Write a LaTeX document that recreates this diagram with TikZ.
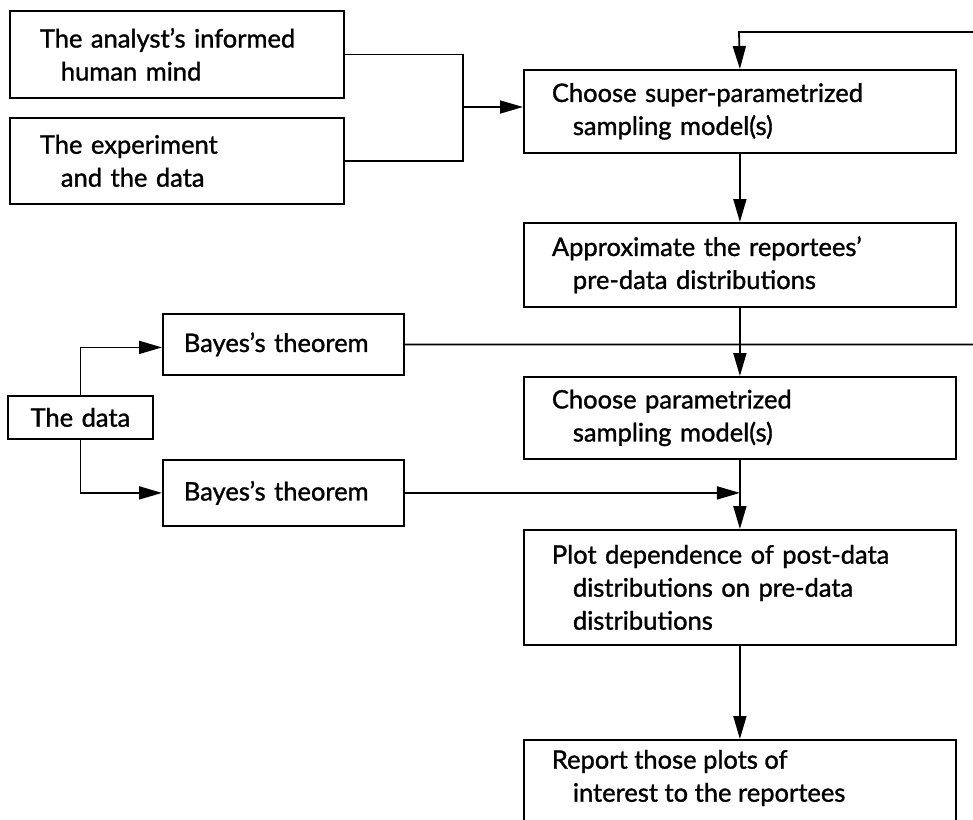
\documentclass[tikz,border=0pt]{standalone}
\usepackage{fontspec}
\setmainfont{Lato}[FakeBold=1.2]
\usetikzlibrary{arrows.meta,calc}
\tikzset{
  box/.style={draw, line width=1.8pt, rectangle, anchor=north west,
    align=left, inner ysep=6pt, font=\fontsize{25.5}{33}\selectfont},
  line/.style={line width=1.8pt},
  arr/.style={line width=1.8pt, -{Triangle[length=23pt,width=13pt]}},
}
\newcommand{\ind}{\hspace*{21pt}}
\begin{document}
\begin{tikzpicture}[x=1pt,y=-1pt]
\useasboundingbox (0,0) rectangle (973,819);
% left column
\node[box, inner xsep=30pt, text width=274pt, minimum height=87pt] (A) at (9,10)
  {\mbox{The analyst's informed}\\\ind\mbox{human mind}};
\node[box, inner xsep=30pt, text width=274pt, minimum height=86pt] (B) at (9,117)
  {\mbox{The experiment}\\\ind\mbox{and the data}};
\node[box, inner xsep=21pt, text width=199pt, minimum height=61pt] (E) at (162,313)
  {\mbox{Bayes's theorem}};
\node[box, inner xsep=21pt, text width=103pt, minimum height=43pt, align=center] (F) at (7,395)
  {\mbox{The data}};
\node[box, inner xsep=21pt, text width=199pt, minimum height=66pt] (H) at (162,459)
  {\mbox{Bayes's theorem}};
% right column
\node[box, inner xsep=28pt, text width=376pt, minimum height=83pt] (C) at (523,69)
  {\mbox{Choose super-parametrized}\\\ind\mbox{sampling model(s)}};
\node[box, inner xsep=28pt, text width=376pt, minimum height=84pt] (D) at (523,222)
  {\mbox{Approximate the reportees'}\\\ind\mbox{pre-data distributions}};
\node[box, inner xsep=28pt, text width=376pt, minimum height=82pt] (G) at (523,376)
  {\mbox{Choose parametrized}\\\ind\mbox{sampling model(s)}};
\node[box, inner xsep=28pt, text width=376pt, minimum height=115pt] (I) at (523,529)
  {\mbox{Plot dependence of post-data}\\\ind\mbox{distributions on pre-data}\\\ind\mbox{distributions}};
\node[box, inner xsep=28pt, inner ysep=10pt] (J) at (523,739)
  {\parbox[t][90pt][t]{376pt}{\raggedright\mbox{Report those plots of}\\\ind\mbox{interest to the reportees}}};
% connectors
\coordinate (j) at (463,107);
\draw[line] (A.east) -| (j);
\draw[line] (B.east) -| (j);
\draw[arr] (j) -- (j -| C.west);
\coordinate (rt) at (990,32);
\coordinate (lt) at (739,32);
\draw[arr] (E.east) -| (rt) -- (lt) -- (C.north);
\draw[arr] (C.south) -- (D.north);
\draw[arr] (D.south) -- (G.north);
\draw[arr] (G.south) -- (I.north);
\draw[arr] (I.south) -- (J.north);
\draw[arr] (H.east) -- (H.east -| I.north);
\draw[arr] (F.north) |- ($(E.west)+(0,3)$);
\draw[arr] (F.south) |- (H.west);
\end{tikzpicture}
\end{document}
